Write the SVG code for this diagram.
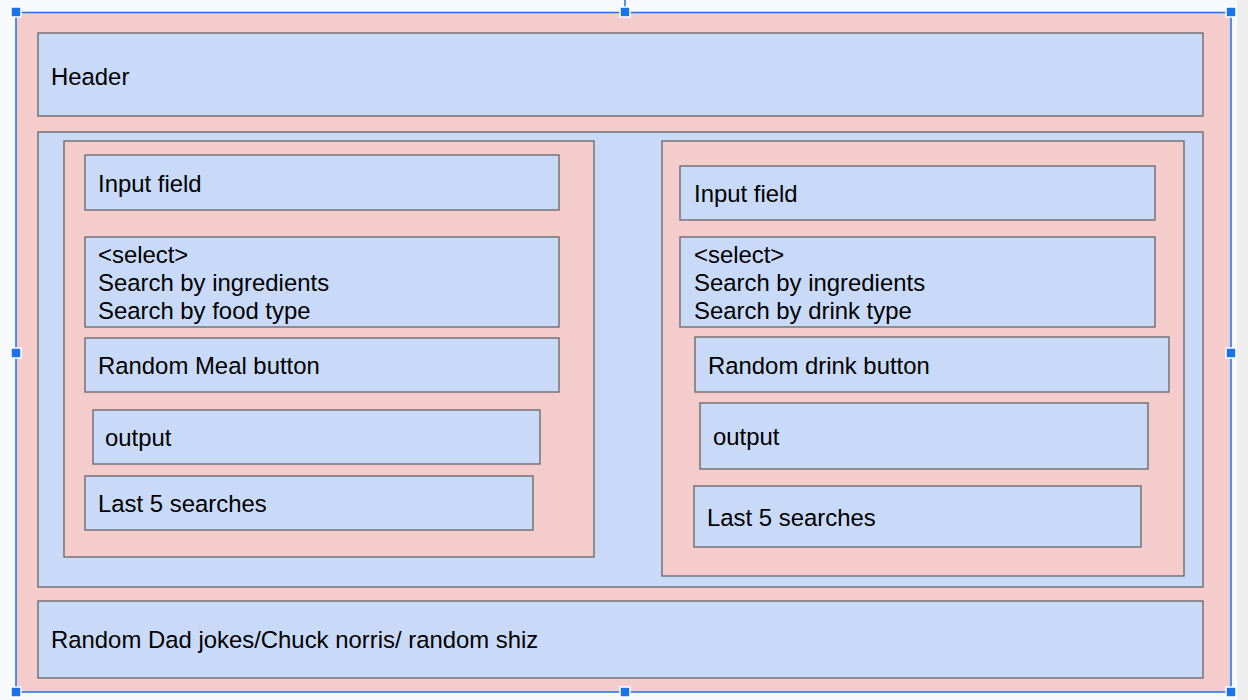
<svg xmlns="http://www.w3.org/2000/svg" width="1248" height="700" viewBox="0 0 1248 700">
<style>
.pink{fill:#f4cccc;stroke:#666666;stroke-width:1.3}
.blue{fill:#c9daf8;stroke:#666666;stroke-width:1.3}
.t{font-family:"Liberation Sans",Arial,sans-serif;font-size:23.9px;fill:#000000}
.sel{fill:none;stroke:#1a73e8;stroke-width:1.5}
.h{fill:#1a73e8;stroke:#ffffff;stroke-width:1.5}
</style>
<rect x="0" y="0" width="1248" height="700" fill="#f8f9fa"/>
<rect x="1237" y="0" width="11" height="700" fill="#eeeeee"/>
<g id="page">
<rect x="16" y="12" width="1215" height="680" fill="#f4cccc"/>
</g>
<g id="header">
<rect class="blue" x="38" y="33" width="1165" height="83"/>
<text class="t" x="51" y="85">Header</text>
</g>
<g id="main">
<rect class="blue" x="38" y="132" width="1165" height="455"/>
</g>
<g id="food-panel">
<rect class="pink" x="64" y="141" width="530" height="416"/>
</g>
<g id="food-input">
<rect class="blue" x="85" y="155" width="474" height="55"/>
<text class="t" x="98" y="192">Input field</text>
</g>
<g id="food-select">
<rect class="blue" x="85" y="237" width="474" height="90"/>
<text class="t" x="98" y="263">&lt;select&gt;</text>
<text class="t" x="98" y="291">Search by ingredients</text>
<text class="t" x="98" y="319">Search by food type</text>
</g>
<g id="food-random">
<rect class="blue" x="85" y="338" width="474" height="54"/>
<text class="t" x="98" y="374">Random Meal button</text>
</g>
<g id="food-output">
<rect class="blue" x="93" y="410" width="447" height="54"/>
<text class="t" x="105" y="446">output</text>
</g>
<g id="food-last">
<rect class="blue" x="85" y="476" width="448" height="54"/>
<text class="t" x="98" y="512">Last 5 searches</text>
</g>
<g id="drink-panel">
<rect class="pink" x="662" y="141" width="522" height="435"/>
</g>
<g id="drink-input">
<rect class="blue" x="680" y="166" width="475" height="54"/>
<text class="t" x="694" y="202">Input field</text>
</g>
<g id="drink-select">
<rect class="blue" x="680" y="237" width="475" height="90"/>
<text class="t" x="694" y="263">&lt;select&gt;</text>
<text class="t" x="694" y="291">Search by ingredients</text>
<text class="t" x="694" y="319">Search by drink type</text>
</g>
<g id="drink-random">
<rect class="blue" x="695" y="337" width="474" height="55"/>
<text class="t" x="708" y="374">Random drink button</text>
</g>
<g id="drink-output">
<rect class="blue" x="700" y="403" width="448" height="66"/>
<text class="t" x="713" y="445">output</text>
</g>
<g id="drink-last">
<rect class="blue" x="694" y="486" width="447" height="61"/>
<text class="t" x="707" y="526">Last 5 searches</text>
</g>
<g id="footer">
<rect class="blue" x="38" y="601" width="1165" height="77"/>
<text class="t" x="51" y="648">Random Dad jokes/Chuck norris/ random shiz</text>
</g>
<g id="selection">
<line x1="625" y1="0" x2="625" y2="12" stroke="#1a73e8" stroke-width="1.5"/>
<rect class="sel" x="16" y="12.5" width="1215" height="679.5"/>
<rect class="h" x="11" y="7" width="10" height="10"/>
<rect class="h" x="620" y="7" width="10" height="10"/>
<rect class="h" x="1226" y="7" width="10" height="10"/>
<rect class="h" x="11" y="348" width="10" height="10"/>
<rect class="h" x="1226" y="348" width="10" height="10"/>
<rect class="h" x="11" y="687" width="10" height="10"/>
<rect class="h" x="620" y="687" width="10" height="10"/>
<rect class="h" x="1226" y="687" width="10" height="10"/>
</g>
<g id="connectors"/>
</svg>
